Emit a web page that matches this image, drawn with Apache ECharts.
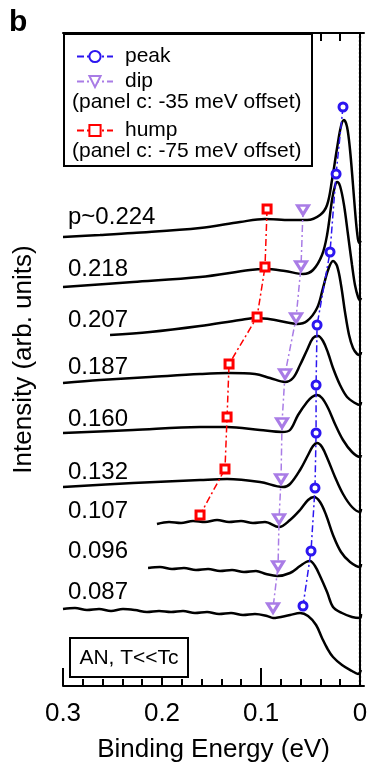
<!DOCTYPE html>
<html><head><meta charset="utf-8">
<script src="https://cdn.jsdelivr.net/npm/echarts@6/dist/echarts.min.js"></script>
<style>html,body{margin:0;padding:0;background:#fff}#chart{width:370px;height:766px}</style>
</head><body><div id="chart"></div>
<script>
const FONT = '"Liberation Sans", Arial, Helvetica, sans-serif';

// doping labels (top to bottom)
const dopingLabels = ['p~0.224','0.218','0.207','0.187','0.160','0.132','0.107','0.096','0.087'];

// spectra: [binding energy (eV), intensity (arb. units, offset)]
const spec224 = [[0.300,44.9],[0.2626,45.1],[0.2293,45.3],[0.1616,45.8],[0.1212,46.4],[0.0960,46.7],[0.0707,46.6],[0.0535,46.6],[0.0404,47.1],[0.0333,48.1],[0.0283,50.6],[0.0232,53.8],[0.0192,56.0],[0.0162,56.6],[0.0131,55.9],[0.0101,53.6],[0.0071,50.1],[0.0051,47.6],[0.0030,45.4],[0.0010,44.3],[-0.001,44.5]];
const spec218 = [[0.300,39.9],[0.2293,40.4],[0.1616,40.9],[0.1111,41.6],[0.0960,41.7],[0.0758,41.5],[0.0576,41.2],[0.0475,41.6],[0.0384,43.1],[0.0333,45.1],[0.0283,48.6],[0.0253,50.0],[0.0232,50.4],[0.0202,50.0],[0.0162,48.1],[0.0121,45.1],[0.0081,42.1],[0.0051,40.1],[0.0020,38.9],[0.0,38.6],[-0.001,38.8]];
const spec207 = [[0.2525,35.1],[0.2121,35.4],[0.1616,36.0],[0.1212,36.6],[0.1040,36.8],[0.0859,36.6],[0.0707,36.3],[0.0636,36.2],[0.0535,36.5],[0.0434,37.8],[0.0374,39.8],[0.0323,41.6],[0.0273,42.5],[0.0232,42.0],[0.0192,40.1],[0.0152,37.4],[0.0111,35.1],[0.0071,33.8],[0.0030,33.2],[0.0,33.1],[-0.001,33.4]];
const spec187 = [[0.300,30.3],[0.2626,30.6],[0.2121,30.9],[0.1616,31.2],[0.1323,31.3],[0.1061,31.2],[0.0909,30.8],[0.0758,30.4],[0.0677,30.8],[0.0606,32.1],[0.0535,33.6],[0.0475,34.8],[0.0424,35.0],[0.0374,34.5],[0.0323,33.3],[0.0273,31.8],[0.0202,30.1],[0.0131,28.9],[0.0051,28.3],[0.0,28.1],[-0.001,28.4]];
const spec160 = [[0.300,25.3],[0.2293,25.6],[0.1616,25.9],[0.1343,25.9],[0.1010,25.6],[0.0788,25.4],[0.0707,25.6],[0.0626,27.1],[0.0535,28.4],[0.0485,28.9],[0.0434,29.1],[0.0384,28.8],[0.0323,27.8],[0.0253,26.2],[0.0172,24.6],[0.0081,23.4],[0.0,22.9],[-0.001,23.1]];
const spec132 = [[0.300,19.9],[0.2293,20.3],[0.1616,20.6],[0.1343,20.7],[0.1010,20.4],[0.0778,19.9],[0.0707,20.2],[0.0606,21.6],[0.0525,23.1],[0.0475,24.0],[0.0434,24.3],[0.0384,23.9],[0.0323,22.6],[0.0253,20.9],[0.0172,19.2],[0.0081,17.9],[0.0,17.4],[-0.001,17.7]];
const spec107 = [[0.2051,16.2],[0.1929,16.4],[0.1808,16.3],[0.1687,16.5],[0.1566,16.4],[0.1444,16.6],[0.1323,16.4],[0.1202,16.5],[0.1081,16.3],[0.0960,16.4],[0.0818,15.9],[0.0707,16.6],[0.0606,17.6],[0.0525,18.6],[0.0465,18.9],[0.0404,18.4],[0.0343,17.1],[0.0273,15.1],[0.0192,13.4],[0.0101,12.4],[0.0,11.9],[-0.001,12.2]];
const spec096 = [[0.2141,11.8],[0.2020,11.9],[0.1899,11.7],[0.1778,11.8],[0.1657,11.6],[0.1535,11.7],[0.1414,11.5],[0.1293,11.6],[0.1172,11.4],[0.1051,11.5],[0.0949,11.2],[0.0838,11.0],[0.0707,11.3],[0.0606,12.0],[0.0545,12.4],[0.0505,12.5],[0.0455,12.0],[0.0404,11.0],[0.0333,9.4],[0.0273,7.9],[0.0182,7.3],[0.0081,6.9],[0.0,6.8],[-0.001,7.2]];
const spec087 = [[0.300,7.7],[0.2879,7.8],[0.2758,7.6],[0.2636,7.7],[0.2515,7.5],[0.2394,7.7],[0.2273,7.6],[0.2152,7.4],[0.2030,7.5],[0.1909,7.4],[0.1788,7.5],[0.1667,7.3],[0.1545,7.4],[0.1424,7.2],[0.1303,7.3],[0.1182,7.1],[0.1061,7.2],[0.0939,7.0],[0.0879,6.8],[0.0707,7.1],[0.0606,7.3],[0.0525,7.0],[0.0444,6.1],[0.0384,4.8],[0.0333,3.8],[0.0273,2.9],[0.0182,2.1],[0.0081,1.5],[0.0020,1.2],[-0.001,1.6]];

// feature markers
const peakE = [0.0172,0.0242,0.0303,0.0434,0.0444,0.0444,0.0455,0.0495,0.0576];
const peakI = [57.9,51.2,43.4,36.1,30.1,25.3,19.8,13.5,8.0];
const dipE  = [0.0576,0.0596,0.0646,0.0758,0.0788,0.0798,0.0818,0.0828,0.0879];
const dipI  = [47.6,42.0,36.8,31.2,26.3,20.7,16.7,12.0,7.8];
const humpE = [0.0939,0.0960,0.1040,0.1323,0.1343,0.1364,0.1616];
const humpI = [47.7,41.9,36.9,32.2,26.9,21.7,17.1];

// axis ticks
const majorTicks = [0, 0.1, 0.2, 0.3];
const minorTicks = [0.02,0.04,0.06,0.08,0.12,0.14,0.16,0.18,0.22,0.24,0.26,0.28];

const BLUE = '#2c16f0', PURPLE = '#a97ce6', RED = '#ff0000';
const spectra = [spec224,spec218,spec207,spec187,spec160,spec132,spec107,spec096,spec087];
const zip = (a,b) => a.map((v,i)=>[v,b[i]]);
const labelY = [217,269,320,367,419,472,511,551,592];
const DASHDOT = [7,3,2,3];

const chart = echarts.init(document.getElementById('chart'), null, {renderer:'canvas'});
const xBase = {type:'value', min:-0.004, max:0.3, inverse:true, splitLine:{show:false}};
const series = spectra.map((d,i)=>({
  type:'line', name:'spec'+i, data:d, smooth:0.35, symbol:'none', z:3,
  lineStyle:{color:'#000', width:2.5}, silent:true,
  markLine: i===0 ? {silent:true, symbol:'none', label:{show:false}, z:4,
    lineStyle:{type:[2,2], color:'#000', width:2.2}, data:[{xAxis:0}]} : undefined
}));
series.push({type:'line', name:'peak', data:zip(peakE,peakI), symbol:'circle', symbolSize:8, z:6,
  itemStyle:{color:'#fff', borderColor:BLUE, borderWidth:3},
  lineStyle:{color:BLUE, width:1.5, type:DASHDOT}});
series.push({type:'line', name:'dip', data:zip(dipE,dipI), symbol:'triangle', symbolRotate:180, symbolSize:[11,9], z:6,
  itemStyle:{color:'#fff', borderColor:PURPLE, borderWidth:3},
  lineStyle:{color:PURPLE, width:1.5, type:DASHDOT}});
series.push({type:'line', name:'hump', data:zip(humpE,humpI), symbol:'rect', symbolSize:8, z:6,
  itemStyle:{color:'#fff', borderColor:RED, borderWidth:3},
  lineStyle:{color:RED, width:1.5, type:DASHDOT}});

const legendBase = {orient:'vertical', left:76, padding:0, itemWidth:36, itemHeight:14, selectedMode:false, z:20,
  textStyle:{fontFamily:FONT, fontSize:21, lineHeight:14, color:'#000', padding:[0,0,0,7]}};

const graphics = [
  {type:'rect', z:15, shape:{x:64, y:34, width:248, height:132}, style:{fill:'#fff', stroke:'#000', lineWidth:2}},
  {type:'text', z:21, x:72, y:102, style:{text:'(panel c: -35 meV offset)', font:'21px '+FONT, fill:'#000', verticalAlign:'middle'}},
  {type:'text', z:21, x:72, y:151, style:{text:'(panel c: -75 meV offset)', font:'21px '+FONT, fill:'#000', verticalAlign:'middle'}},
  {type:'rect', z:15, shape:{x:70, y:638, width:118, height:39}, style:{fill:'#fff', stroke:'#000', lineWidth:2}},
  {type:'text', z:21, x:129, y:658, style:{text:'AN, T<<Tc', font:'21px '+FONT, fill:'#000', align:'center', verticalAlign:'middle'}},
  {type:'text', z:21, x:9, y:23, style:{text:'b', font:'bold 30px '+FONT, fill:'#000', verticalAlign:'middle'}}
];
dopingLabels.forEach((t,i)=>graphics.push({type:'text', z:21, x:68, y:labelY[i],
  style:{text:t, font:'24px '+FONT, fill:'#000', verticalAlign:'middle'}}));

chart.setOption({
  animation:false,
  backgroundColor:'#fff',
  grid:{left:63, right:6, top:33, bottom:80, containLabel:false, outerBoundsMode:'none'},
  xAxis:[
    Object.assign({}, xBase, {position:'bottom',
      axisLine:{show:true, lineStyle:{color:'#000', width:2}},
      axisTick:{show:true, inside:true, length:18, lineStyle:{color:'#000', width:2}, customValues:majorTicks},
      axisLabel:{show:true, customValues:majorTicks, margin:15, fontFamily:FONT, fontSize:26, color:'#000',
        formatter:v=>String(Math.round(v*10)/10)},
      name:'Binding Energy (eV)', nameLocation:'middle', nameGap:51,
      nameTextStyle:{fontFamily:FONT, fontSize:26, color:'#000'}}),
    Object.assign({}, xBase, {position:'bottom',
      axisLine:{show:false},
      axisTick:{show:true, inside:true, length:7, lineStyle:{color:'#000', width:2}, customValues:minorTicks},
      axisLabel:{show:false}}),
    Object.assign({}, xBase, {position:'top',
      axisLine:{show:true, lineStyle:{color:'#000', width:2}},
      axisTick:{show:true, inside:true, length:8, lineStyle:{color:'#000', width:2}, customValues:minorTicks},
      axisLabel:{show:false}})
  ],
  yAxis:[
    {type:'value', min:0, max:65.3, position:'left', splitLine:{show:false},
      axisLine:{show:true, lineStyle:{color:'#000', width:2}}, axisTick:{show:false}, axisLabel:{show:false},
      name:'Intensity (arb. units)', nameLocation:'middle', nameGap:26,
      nameTextStyle:{fontFamily:FONT, fontSize:26, color:'#000'}},
    {type:'value', min:0, max:65.3, position:'right', splitLine:{show:false},
      axisLine:{show:true, lineStyle:{color:'#000', width:2}}, axisTick:{show:false}, axisLabel:{show:false}}
  ],
  legend:[
    Object.assign({}, legendBase, {data:['peak'], top:46}),
    Object.assign({}, legendBase, {data:['dip'], top:71}),
    Object.assign({}, legendBase, {data:['hump'], top:120})
  ],
  graphic:graphics,
  series:series
});
</script></body></html>
